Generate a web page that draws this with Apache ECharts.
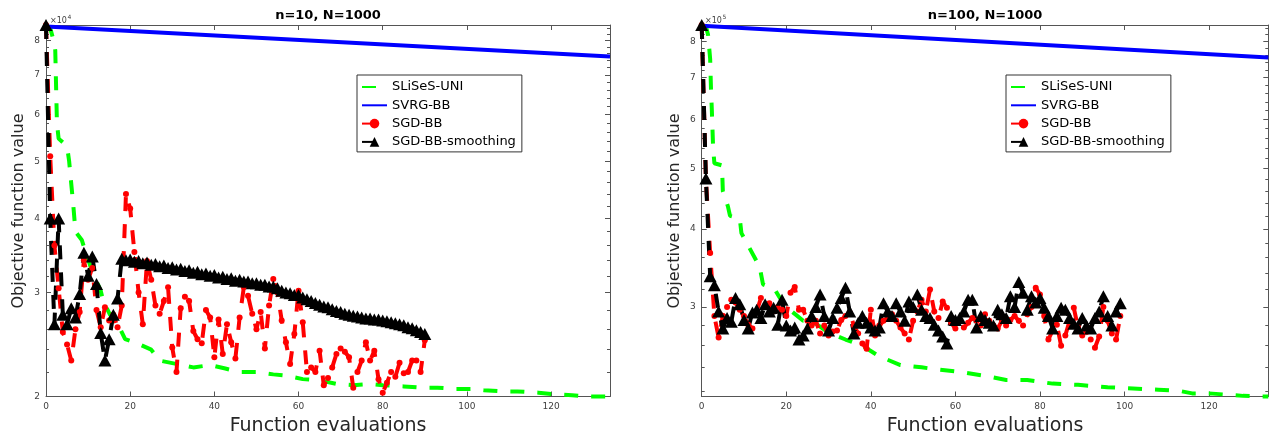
<!DOCTYPE html>
<html><head><meta charset="utf-8">
<script src="https://cdn.jsdelivr.net/npm/echarts@6.0.0/dist/echarts.min.js"></script>
<style>html,body{margin:0;padding:0;background:#fff}#c{width:1271px;height:436px}</style>
</head><body><div id="c"></div><script>
// ---------- data (objective values in units of 1e4 (left) and 1e5 (right)) ----------
const seriesNames = ['SLiSeS-UNI', 'SVRG-BB', 'SGD-BB', 'SGD-BB-smoothing'];
const xTickLabels = [0, 20, 40, 60, 80, 100, 120];
const leftYTickLabels = [2, 3, 4, 5, 6, 7, 8];
const rightYTickLabels = [3, 4, 5, 6, 7, 8];

// left panel: n=10, N=1000 (x 1e4)
const leftGreenX = [0,1,1.8,2.2,2.6,3,5,5.5,6.1,6.5,7,8.5,9.3,11,13,13.6,15.2,17,18.8,21.7,25,27,31,35,39,42.6,46,50,54,57,61,65,69,73,77,80,85,89,93,97,101,104,109,112,117,120,125,128,134];
const leftGreenY = [8.5,8.4,8.0,7.7,5.8,5.46,5.3,5.0,4.5,4.2,3.8,3.68,3.53,3.25,3.02,2.9,2.75,2.66,2.5,2.46,2.4,2.3,2.27,2.24,2.26,2.23,2.2,2.2,2.18,2.17,2.14,2.13,2.1,2.09,2.1,2.09,2.08,2.07,2.07,2.06,2.06,2.05,2.04,2.04,2.03,2.02,2.01,2.0,2.0];
const leftBlueX = [0, 134];
const leftBlueY = [8.45, 7.52];
const leftRed = [8.5,5.1,3.6,3.05,2.57,2.45,2.3,2.6,2.78,3.4,3.15,3.3,2.8,2.62,2.83,2.69,2.75,2.62,2.85,
 4.4,4.16,3.51,3.0,2.65,3.39,3.15,2.85,2.76,2.9,3.06,2.42,2.2,2.82,2.95,2.9,2.58,2.5,2.46,2.8,2.72,2.33,2.7,2.36,2.65,2.47,2.32,2.72,3.06,2.96,2.76,2.6,2.78,2.41,2.85,3.16,3.0,2.69,2.47,2.27,2.55,3.02,2.67,2.2,2.24,2.2,2.39,2.09,2.15,2.24,2.36,2.41,2.38,2.33,2.07,2.2,2.3,2.47,2.3,2.39,2.14,2.03,2.11,2.2,2.16,2.28,2.19,2.2,2.3,2.3,2.2,2.49];
const leftBlack = [8.5,4.0,2.65,4.0,2.75,2.65,2.82,2.72,2.98,3.5,3.2,3.45,3.1,2.56,2.3,2.5,2.75,2.93,3.42,
 3.40,3.41,3.38,3.39,3.36,3.37,3.34,3.35,3.32,3.33,3.30,3.31,3.28,3.29,3.26,3.27,3.24,3.25,3.22,3.23,3.20,3.21,3.18,3.19,3.16,3.17,3.14,3.15,3.13,3.13,3.11,3.11,3.09,3.09,3.07,3.07,3.05,3.02,3.00,2.99,2.97,2.97,2.94,2.92,2.90,2.88,2.86,2.84,2.83,2.81,2.79,2.78,2.76,2.75,2.74,2.73,2.72,2.71,2.71,2.70,2.70,2.69,2.68,2.67,2.66,2.65,2.64,2.62,2.61,2.59,2.57,2.55];

// right panel: n=100, N=1000 (x 1e5)
const rightGreenX = [0,1,1.5,2,2.2,2.4,2.7,3,4.8,5,6.2,6.7,9,9.4,13.7,14.5,17.3,18.5,20.8,24,26,30,34,38,42,47,52,56,61,68,72,77,83,89,96,102,108,113,116,120,124,128,132,134];
const rightGreenY = [8.5,8.45,8.2,7.5,6.7,6.2,5.4,5.1,5.06,4.6,4.35,4.2,4.16,3.94,3.48,3.26,3.2,3.1,2.97,2.85,2.85,2.73,2.66,2.6,2.5,2.42,2.4,2.38,2.36,2.32,2.29,2.29,2.26,2.25,2.23,2.22,2.21,2.2,2.18,2.18,2.17,2.16,2.155,2.155];
const rightBlueX = [0, 134];
const rightBlueY = [8.48, 7.54];
const rightRed = [8.5,4.8,3.66,2.9,2.68,2.9,3.0,3.08,3.05,2.97,2.9,2.81,2.77,2.95,3.1,3.0,3.04,2.96,3.0,2.97,
 2.9,3.16,3.23,2.97,2.97,2.85,2.8,2.85,2.72,2.8,2.7,2.74,2.75,2.86,2.9,2.94,2.8,2.72,2.62,2.57,
 2.97,2.7,2.8,2.85,2.88,2.92,2.85,2.78,2.72,2.66,2.85,2.95,3.08,2.95,3.2,2.95,2.88,3.06,2.99,2.83,
 2.77,2.85,2.78,2.83,2.88,2.85,2.8,2.92,2.85,2.8,2.77,2.85,2.8,2.86,2.9,2.85,2.8,2.92,3.0,3.22,
 3.14,2.9,2.66,2.75,2.81,2.6,2.7,2.85,2.99,2.78,2.7,2.75,2.66,2.58,2.69,3.0,2.85,2.72,2.66,2.9];
const rightBlack = [8.5,4.82,3.36,3.25,2.95,2.77,2.88,2.84,3.1,3.03,2.86,2.77,2.94,2.97,2.88,3.03,2.95,2.99,2.81,3.08,
 2.8,2.75,2.78,2.66,2.7,2.77,2.9,3.0,3.14,2.9,2.75,2.88,2.99,3.1,3.22,2.95,2.72,2.83,2.9,2.83,
 2.78,2.75,2.78,3.04,2.95,2.9,3.04,2.95,2.85,3.06,3.0,3.14,2.97,2.9,2.88,2.81,2.75,2.69,2.62,2.9,
 2.86,2.88,2.95,3.08,3.08,2.78,2.9,2.86,2.83,2.8,2.97,2.92,2.88,3.12,3.0,3.29,3.16,2.97,3.12,3.05,
 3.1,2.99,2.9,2.77,2.9,2.99,2.97,2.88,2.82,2.77,2.88,2.8,2.77,2.88,2.95,3.12,2.9,2.8,2.95,3.04];

// ---------- helpers ----------
const FF = '"DejaVu Sans", sans-serif';
const AX = '#555';
const L10 = Math.log10;
const seqPts = ys => ys.map((v, i) => [i, L10(v)]);
const xyPts = (xs, ys) => xs.map((x, i) => [x, L10(ys[i])]);
function minorTicks() {
  const out = [];
  for (let k = 10; k <= 43; k++) { if (k % 5 !== 0) out.push(k / 5); }
  return out;
}
const grids = [
  { left: 46, top: 25, width: 564, height: 371.5 },
  { left: 701.7, top: 25, width: 566.6, height: 371.5 }
];
function makeXAxes(gi) {
  const base = {
    gridIndex: gi, type: 'value', min: 0, max: 134,
    splitLine: { show: false },
    axisLine: { show: true, onZero: false, lineStyle: { color: AX, width: 1 } },
    axisTick: { show: true, inside: true, length: 5, customValues: xTickLabels, lineStyle: { color: AX } }
  };
  return [
    Object.assign({}, base, { position: 'bottom',
      axisLabel: { show: true, customValues: xTickLabels, fontSize: 9, fontFamily: FF, color: '#404040', margin: 6 } }),
    Object.assign({}, base, { position: 'top', axisLabel: { show: false } })
  ];
}
function makeYAxes(gi, lo, hi, majors) {
  const mn = L10(lo), mx = L10(hi);
  const maj = majors.map(L10);
  const mnr = minorTicks().map(L10);
  const mk = (pos, ticks, len, labels, line) => ({
    gridIndex: gi, type: 'value', min: mn, max: mx, position: pos,
    splitLine: { show: false },
    axisLine: { show: line, lineStyle: { color: AX, width: 1 } },
    axisTick: { show: true, inside: true, length: len, customValues: ticks, lineStyle: { color: AX } },
    axisLabel: labels ? { show: true, customValues: maj, fontSize: 9, fontFamily: FF, color: '#404040', margin: 6,
      formatter: v => String(Math.round(Math.pow(10, v))) } : { show: false }
  });
  return [mk('left', maj, 5, true, true), mk('left', mnr, 3, false, false),
          mk('right', maj, 5, false, true), mk('right', mnr, 3, false, false)];
}
function panelSeries(gi, gX, gY, bX, bY, red, black) {
  const xi = gi * 2, yi = gi * 4;
  const dash = [14, 13];
  return [
    { type: 'line', name: seriesNames[0], xAxisIndex: xi, yAxisIndex: yi, data: xyPts(gX, gY), symbol: 'none',
      clip: false, lineStyle: { color: '#00ff00', width: 4, type: dash }, itemStyle: { color: '#00ff00' } },
    { type: 'line', name: seriesNames[1], xAxisIndex: xi, yAxisIndex: yi, data: xyPts(bX, bY), symbol: 'none',
      clip: false, lineStyle: { color: '#0000ff', width: 4 }, itemStyle: { color: '#0000ff' } },
    { type: 'line', name: seriesNames[2], xAxisIndex: xi, yAxisIndex: yi, data: seqPts(red), symbol: 'circle', symbolSize: 6,
      clip: false, lineStyle: { color: '#ff0000', width: 4, type: dash }, itemStyle: { color: '#ff0000' } },
    { type: 'line', name: seriesNames[3], xAxisIndex: xi, yAxisIndex: yi, data: seqPts(black), symbol: 'triangle', symbolSize: [13, 12],
      clip: false, lineStyle: { color: '#000000', width: 4, type: dash }, itemStyle: { color: '#000000' } }
  ];
}
function legendAt(left) {
  return {
    left: left, top: 75, orient: 'vertical', selectedMode: false,
    data: [
      { name: seriesNames[0], itemStyle: { opacity: 0 } },
      { name: seriesNames[1], itemStyle: { opacity: 0 } },
      { name: seriesNames[2] },
      { name: seriesNames[3] }
    ],
    itemWidth: 25, itemHeight: 12, itemGap: 4.3, padding: [5, 6, 3, 4],
    borderColor: '#333', borderWidth: 1, borderRadius: 0, backgroundColor: '#fff',
    textStyle: { fontFamily: FF, fontSize: 13, color: '#000', lineHeight: 14 }
  };
}
function txt(text, x, y, size, opts) {
  opts = opts || {};
  return { type: 'text', x: x, y: y, rotation: opts.rot || 0, z: 100,
    style: { text: text, font: (opts.bold ? 'bold ' : '') + size + 'px ' + FF, fill: opts.color || '#262626',
      textAlign: opts.align || 'center', align: opts.align || 'center',
      textVerticalAlign: 'middle', verticalAlign: 'middle' } };
}

const option = {
  animation: false,
  backgroundColor: '#fff',
  grid: grids,
  xAxis: makeXAxes(0).concat(makeXAxes(1)),
  yAxis: makeYAxes(0, 2.0, 8.5, leftYTickLabels).concat(makeYAxes(1, 2.155, 8.5, rightYTickLabels)),
  legend: [legendAt(357), legendAt(1006)],
  series: panelSeries(0, leftGreenX, leftGreenY, leftBlueX, leftBlueY, leftRed, leftBlack)
    .concat(panelSeries(1, rightGreenX, rightGreenY, rightBlueX, rightBlueY, rightRed, rightBlack)),
  graphic: [
    txt('n=10, N=1000', 328, 16, 13, { bold: true, color: '#000' }),
    txt('n=100, N=1000', 985, 16, 13, { bold: true, color: '#000' }),
    txt('Function evaluations', 328, 426, 19),
    txt('Function evaluations', 985, 426, 19),
    txt('Objective function value', 19, 211, 16, { rot: Math.PI / 2 }),
    txt('Objective function value', 675, 211, 16, { rot: Math.PI / 2 }),
    txt('×10', 50, 21, 8, { align: 'left', color: '#404040' }),
    txt('4', 67.5, 17, 6, { align: 'left', color: '#404040' }),
    txt('×10', 705, 21, 8, { align: 'left', color: '#404040' }),
    txt('5', 722.5, 17, 6, { align: 'left', color: '#404040' })
  ]
};
const chart = echarts.init(document.getElementById('c'), null, { renderer: 'canvas' });
chart.setOption(option);
</script></body></html>
